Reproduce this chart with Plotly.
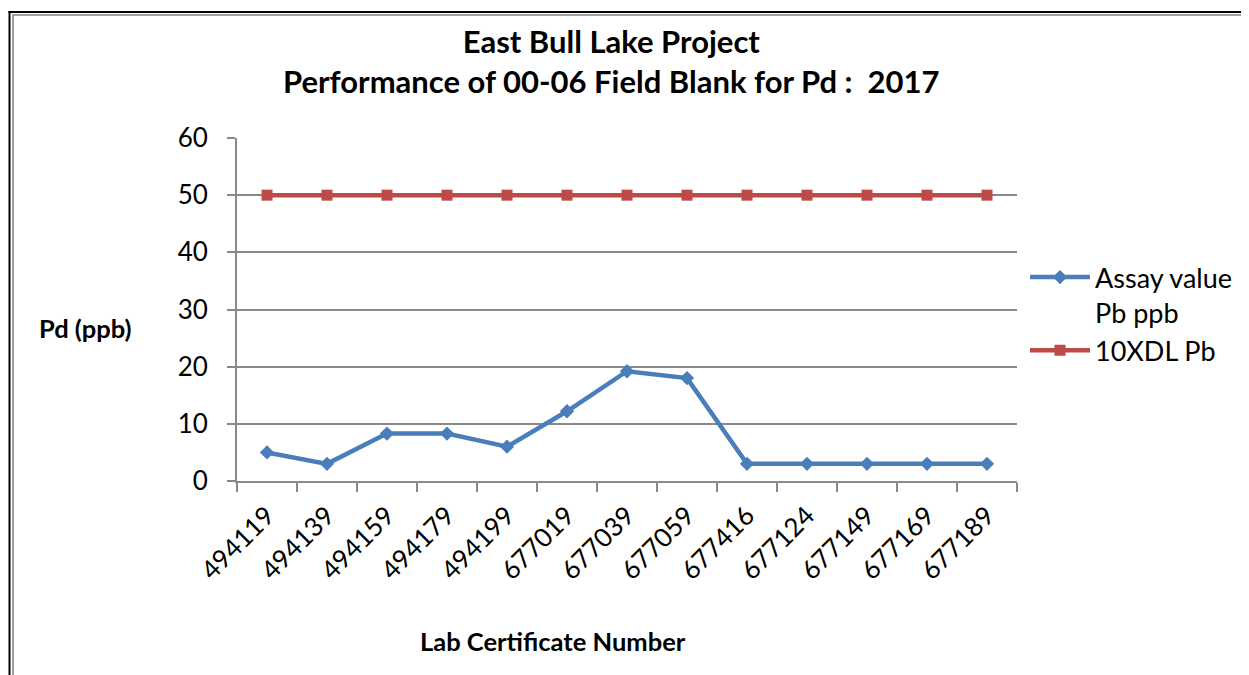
import plotly.graph_objects as go

certificates = ["494119", "494139", "494159", "494179", "494199", "677019", "677039",
                "677059", "677416", "677124", "677149", "677169", "677189"]
assay_values = [5, 3, 8.3, 8.3, 6, 12.2, 19.2, 18, 3, 3, 3, 3, 3]
limit_values = [50] * 13
y_ticks = [0, 10, 20, 30, 40, 50, 60]

W, H = 1249, 675
OFF = 8  # page body margin
L, R, T, B = 237 - OFF, 1017 - OFF, 138 - OFF, 481 - OFF


def px(x):
    """page pixel x -> paper"""
    return (x - OFF - L) / (R - L)


def py(y):
    """page pixel y -> paper"""
    return (B - (y - OFF)) / (B - T)


fig = go.Figure()
fig.add_trace(go.Scatter(
    x=certificates, y=assay_values, name="Assay value<br>Pb ppb",
    mode="lines+markers",
    line=dict(color="#4A7EBB", width=4.5),
    marker=dict(symbol="diamond", size=11, color="#4A7EBB"),
))
fig.add_trace(go.Scatter(
    x=certificates, y=limit_values, name="10XDL Pb",
    mode="lines+markers",
    line=dict(color="#BE4B48", width=4.5),
    marker=dict(symbol="square", size=11, color="#BE4B48"),
))

font = "Lato, 'Open Sans', sans-serif"
fig.update_layout(
    width=W, height=H,
    margin=dict(l=L, r=W - R, t=T, b=H - B, autoexpand=False),
    paper_bgcolor="white", plot_bgcolor="white",
    font=dict(family=font, color="black"),
    showlegend=True,
    legend=dict(x=px(1025), xanchor="left", y=py(253), yanchor="top",
                font=dict(size=27, family=font), valign="top",
                bgcolor="rgba(0,0,0,0)", itemwidth=60, tracegroupgap=0),
    xaxis=dict(type="category", tickson="boundaries", ticks="outside", ticklen=9,
               tickcolor="#898989", tickwidth=2, showline=True, linecolor="#898989",
               linewidth=2, showgrid=False, tickangle=-45, ticklabelstandoff=7,
               tickfont=dict(size=26, family=font), range=[-0.5, 12.5]),
    yaxis=dict(range=[0, 60], tickvals=y_ticks, ticks="outside", ticklen=8,
               tickcolor="#898989", tickwidth=2, showline=True, linecolor="#898989",
               linewidth=2, showgrid=True, gridcolor="#898989", gridwidth=2,
               zeroline=False, ticklabelstandoff=14,
               tickfont=dict(size=26, family=font)),
)

fig.add_annotation(text="<b>East Bull Lake Project<br>Performance of 00-06 Field Blank for Pd :  2017</b>",
                   xref="paper", yref="paper", x=px(611), y=py(61),
                   xanchor="center", yanchor="middle", showarrow=False,
                   font=dict(size=31, family=font))
fig.add_annotation(text="<b>Pd (ppb)</b>", xref="paper", yref="paper",
                   x=px(85), y=py(328), xanchor="center", yanchor="middle",
                   showarrow=False, font=dict(size=25.5, family=font))
fig.add_annotation(text="<b>Lab Certificate Number</b>", xref="paper", yref="paper",
                   x=px(553), y=py(641), xanchor="center", yanchor="middle",
                   showarrow=False, font=dict(size=25.5, family=font))

# page border (black outer, gray inner)
fig.add_shape(type="line", xref="paper", yref="paper", x0=px(9.5), x1=px(9.5), y0=py(11), y1=py(700),
              line=dict(color="black", width=2))
fig.add_shape(type="line", xref="paper", yref="paper", x0=px(8.5), x1=px(1270), y0=py(12), y1=py(12),
              line=dict(color="black", width=2))
fig.add_shape(type="line", xref="paper", yref="paper", x0=px(13), x1=px(13), y0=py(14), y1=py(700),
              line=dict(color="#A0A0A0", width=2))
fig.add_shape(type="line", xref="paper", yref="paper", x0=px(12), x1=px(1270), y0=py(15), y1=py(15),
              line=dict(color="#A0A0A0", width=2))

fig.write_html("out.html")
